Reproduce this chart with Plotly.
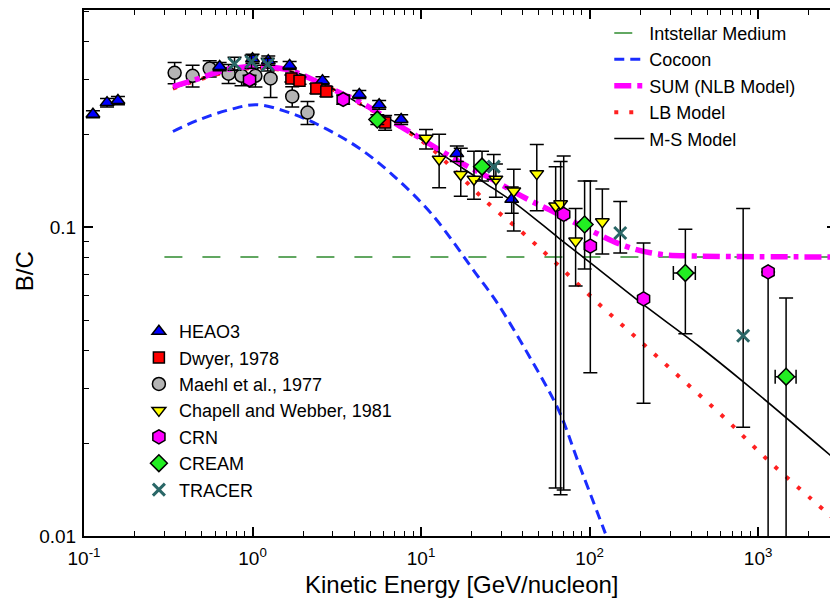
import plotly.graph_objects as go

# ---------------- data ----------------
# Model curves
ism_x = [0.30, 3000]
ism_y = [0.080, 0.080]

cocoon_x = [0.337, 0.485, 0.731, 1.06, 1.72, 2.74, 4.30, 6.74, 11.6, 21.2, 27.8, 43.6, 65.6, 86.1, 124]
cocoon_y = [0.204, 0.223, 0.240, 0.249, 0.233, 0.208, 0.180, 0.148, 0.110, 0.0706, 0.0577, 0.0384, 0.0255, 0.0172, 0.0102]

sum_x = [0.337, 0.485, 0.701, 1.10, 1.59, 2.09, 3.41, 4.30, 6.74, 10.7, 16.8, 26.3, 41.8, 65.6, 103, 163, 256, 442, 1000, 3000]
sum_y = [0.285, 0.303, 0.324, 0.331, 0.324, 0.307, 0.270, 0.255, 0.220, 0.189, 0.163, 0.143, 0.124, 0.110, 0.0971, 0.0868, 0.0818, 0.0806, 0.0802, 0.0801]

lb_x = [0.337, 0.701, 1.10, 1.90, 3.41, 7.41, 11.2, 16.3, 25.2, 39.6, 61.2, 110, 198, 355, 638, 1130, 2060, 2897]
lb_y = [0.281, 0.318, 0.328, 0.312, 0.269, 0.212, 0.182, 0.150, 0.119, 0.0964, 0.0777, 0.0573, 0.0429, 0.0321, 0.0240, 0.0177, 0.0132, 0.0112]

ms_x = [0.337, 0.701, 1.10, 1.90, 3.41, 4.30, 7.41, 13.3, 23.0, 36.5, 65.6, 103, 195, 442, 838, 2897]
ms_y = [0.281, 0.318, 0.328, 0.314, 0.270, 0.251, 0.215, 0.172, 0.141, 0.119, 0.0922, 0.0760, 0.0577, 0.0413, 0.0312, 0.0176]

# Measurements
heao_x = [0.113, 0.137, 0.159, 0.638, 1.00, 1.24, 1.66, 2.60, 4.30, 5.64, 7.62, 16.3, 34.5]
heao_y = [0.232, 0.253, 0.257, 0.331, 0.351, 0.346, 0.334, 0.298, 0.269, 0.249, 0.223, 0.173, 0.123]
heao_e = [0.006, 0.008, 0.008, 0.010, 0.012, 0.012, 0.010, 0.009, 0.008, 0.008, 0.008, 0.010, 0.012]

dwyer_x = [1.70, 1.90, 2.39, 2.74, 6.12]
dwyer_y = [0.303, 0.298, 0.281, 0.275, 0.218]
dwyer_e = [0.008, 0.008, 0.010, 0.010, 0.012]

maehl_x = [0.345, 0.441, 0.557, 0.721, 0.861, 1.04, 1.28, 1.72, 2.12]
maehl_y = [0.316, 0.309, 0.326, 0.314, 0.309, 0.309, 0.303, 0.265, 0.235]
maehl_e = [0.025, 0.025, 0.020, 0.022, 0.022, 0.025, 0.040, 0.020, 0.020]

chap_x = [10.7, 12.8, 17.2, 20.6, 27.8, 35.5, 48.6, 62.9, 67.3, 82.6, 119]
chap_y = [0.194, 0.166, 0.148, 0.143, 0.143, 0.131, 0.149, 0.117, 0.119, 0.0901, 0.104]
chap_hi = [0.207, 0.200, 0.180, 0.176, 0.160, 0.154, 0.185, 0.157, 0.163, 0.115, 0.133]
chap_lo = [0.179, 0.134, 0.126, 0.123, 0.125, 0.0971, 0.113, 0.0143, 0.0136, 0.0645, 0.0818]

crn_x = [0.96, 3.45, 70.2, 101, 209, 1146]
crn_y = [0.300, 0.259, 0.110, 0.0868, 0.0586, 0.0716]
crn_hi = [0.310, 0.268, 0.170, 0.141, 0.0888, 0.0716]
crn_lo = [0.290, 0.250, 0.0141, 0.0338, 0.0269, 0.001]

cream_x = [5.5, 23.0, 93.4, 370, 1465]
cream_y = [0.223, 0.157, 0.102, 0.0711, 0.0328]
cream_hi = [0.231, 0.176, 0.141, 0.0985, 0.0590]
cream_lo = [0.215, 0.141, 0.0732, 0.0452, 0.001]
cream_xlo = [5.5, 23.0, 93.4, 314, 1262]
cream_xhi = [5.5, 23.0, 93.4, 424, 1679]

tracer_x = [0.782, 0.986, 1.23, 27.0, 152, 815]
tracer_y = [0.338, 0.343, 0.336, 0.157, 0.0957, 0.0445]
tracer_hi = [0.355, 0.360, 0.352, 0.172, 0.121, 0.115]
tracer_lo = [0.322, 0.327, 0.320, 0.143, 0.0824, 0.0225]

x_tickvals = [0.1, 1, 10, 100, 1000]
x_ticktext = ["10<sup>-1</sup>", "10<sup>0</sup>", "10<sup>1</sup>", "10<sup>2</sup>", "10<sup>3</sup>"]
y_tickvals = [0.01, 0.1]
y_ticktext = ["0.01", "0.1"]

FONT = "Liberation Sans, Arial, Helvetica, sans-serif"

def diff_plus(hi, y):
    return [h - v for h, v in zip(hi, y)]

def diff_minus(lo, y):
    return [v - l for l, v in zip(lo, y)]

def ebar(plus, minus=None):
    d = dict(type="data", array=plus, color="black", thickness=1.5, width=7, visible=True)
    if minus is not None:
        d["symmetric"] = False
        d["arrayminus"] = minus
    return d

fig = go.Figure()

# model lines (legend 1)
fig.add_trace(go.Scatter(x=ism_x, y=ism_y, mode="lines", name="Intstellar Medium",
                         line=dict(color="#2e8b2e", width=1.6, dash="18px,20px"),
                         legend="legend", legendrank=1))
fig.add_trace(go.Scatter(x=cocoon_x, y=cocoon_y, mode="lines", name="Cocoon", line_shape="spline",
                         line=dict(color="#1a2cff", width=3, dash="10px,6px"),
                         legend="legend", legendrank=2))
fig.add_trace(go.Scatter(x=lb_x, y=lb_y, mode="lines", name="LB Model", line_shape="spline",
                         line=dict(color="#ff2020", width=4, dash="4px,11px"),
                         legend="legend", legendrank=4))
fig.add_trace(go.Scatter(x=ms_x, y=ms_y, mode="lines", name="M-S Model", line_shape="spline",
                         line=dict(color="black", width=1.6),
                         legend="legend", legendrank=5))

# data (legend 2)
fig.add_trace(go.Scatter(x=maehl_x, y=maehl_y, mode="markers", name="Maehl et al., 1977",
                         error_y=ebar(maehl_e),
                         marker=dict(symbol="circle", size=13, color="#b4b4b4", line=dict(color="black", width=1.5)),
                         legend="legend2", legendrank=3))
fig.add_trace(go.Scatter(x=sum_x, y=sum_y, mode="lines", name="SUM (NLB Model)", line_shape="spline",
                         line=dict(color="#ff00ff", width=5.5, dash="17px,6px,5px,6px"),
                         legend="legend", legendrank=3))
fig.add_trace(go.Scatter(x=heao_x, y=heao_y, mode="markers", name="HEAO3",
                         error_y=ebar(heao_e),
                         marker=dict(symbol="triangle-up", size=12, color="#0000ff", line=dict(color="black", width=1.5)),
                         legend="legend2", legendrank=1))
fig.add_trace(go.Scatter(x=dwyer_x, y=dwyer_y, mode="markers", name="Dwyer, 1978",
                         error_y=ebar(dwyer_e),
                         marker=dict(symbol="square", size=11, color="#ff0000", line=dict(color="black", width=1.5)),
                         legend="legend2", legendrank=2))
fig.add_trace(go.Scatter(x=chap_x, y=chap_y, mode="markers", name="Chapell and Webber, 1981",
                         error_y=ebar(diff_plus(chap_hi, chap_y), diff_minus(chap_lo, chap_y)),
                         marker=dict(symbol="triangle-down", size=12, color="#ffff00", line=dict(color="black", width=1.5)),
                         legend="legend2", legendrank=4))
fig.add_trace(go.Scatter(x=crn_x, y=crn_y, mode="markers", name="CRN",
                         error_y=ebar(diff_plus(crn_hi, crn_y), diff_minus(crn_lo, crn_y)),
                         marker=dict(symbol="hexagon", size=14, color="#ff00ff", line=dict(color="black", width=1.5)),
                         legend="legend2", legendrank=5))
fig.add_trace(go.Scatter(x=cream_x, y=cream_y, mode="markers", name="CREAM",
                         error_y=ebar(diff_plus(cream_hi, cream_y), diff_minus(cream_lo, cream_y)),
                         error_x=ebar(diff_plus(cream_xhi, cream_x), diff_minus(cream_xlo, cream_x)),
                         marker=dict(symbol="diamond", size=13, color="#22ee22", line=dict(color="black", width=1.5)),
                         legend="legend2", legendrank=6))
fig.add_trace(go.Scatter(x=tracer_x, y=tracer_y, mode="markers", name="TRACER",
                         error_y=ebar(diff_plus(tracer_hi, tracer_y), diff_minus(tracer_lo, tracer_y)),
                         marker=dict(symbol="x-thin", size=12, color="#2a6767", line=dict(color="#2a6767", width=3)),
                         legend="legend2", legendrank=7))

axis_common = dict(showline=True, linecolor="black", linewidth=2, mirror="allticks",
                   ticks="inside", tickcolor="black", tickwidth=1.5, showgrid=False, zeroline=False,
                   tickfont=dict(family=FONT, size=19, color="black"))

minor_x = [m * 10 ** e for e in range(-1, 4) for m in range(2, 10)]
minor_y = [m * 10 ** e for e in range(-2, 0) for m in range(2, 10)]

fig.update_xaxes(type="log", range=[-1, 3.462], tickmode="array", tickvals=x_tickvals, ticktext=x_ticktext,
                 ticklen=9, ticklabelstandoff=4,
                 minor=dict(tickmode="array", tickvals=minor_x, ticks="inside", ticklen=5, tickcolor="black", tickwidth=1.2),
                 **axis_common)
fig.update_yaxes(type="log", range=[-2, -0.297], tickmode="array", tickvals=y_tickvals, ticktext=y_ticktext,
                 ticklen=9, ticklabelstandoff=2,
                 minor=dict(tickmode="array", tickvals=minor_y, ticks="inside", ticklen=5, tickcolor="black", tickwidth=1.2),
                 **axis_common)

fig.update_layout(
    width=830, height=593,
    margin=dict(l=76, r=0, t=0, b=65),
    paper_bgcolor="white", plot_bgcolor="white",
    font=dict(family=FONT, color="black"),
    showlegend=True,
    legend=dict(x=0.6985, y=0.991, xanchor="left", yanchor="top", bgcolor="rgba(0,0,0,0)",
                font=dict(family=FONT, size=18, color="black"), tracegroupgap=0),
    legend2=dict(x=0.073, y=0.424, xanchor="left", yanchor="top", bgcolor="rgba(0,0,0,0)",
                 font=dict(family=FONT, size=18, color="black"), tracegroupgap=0),
    annotations=[
        dict(text="Kinetic Energy [GeV/nucleon]", xref="paper", yref="paper", x=0.503, y=-0.0928,
             xanchor="center", yanchor="middle", showarrow=False, font=dict(family=FONT, size=24, color="black")),
        dict(text="B/C", xref="paper", yref="paper", x=-0.078, y=0.504, textangle=-90,
             xanchor="center", yanchor="middle", showarrow=False, font=dict(family=FONT, size=24, color="black")),
    ],
)

fig.write_html("out.html")
